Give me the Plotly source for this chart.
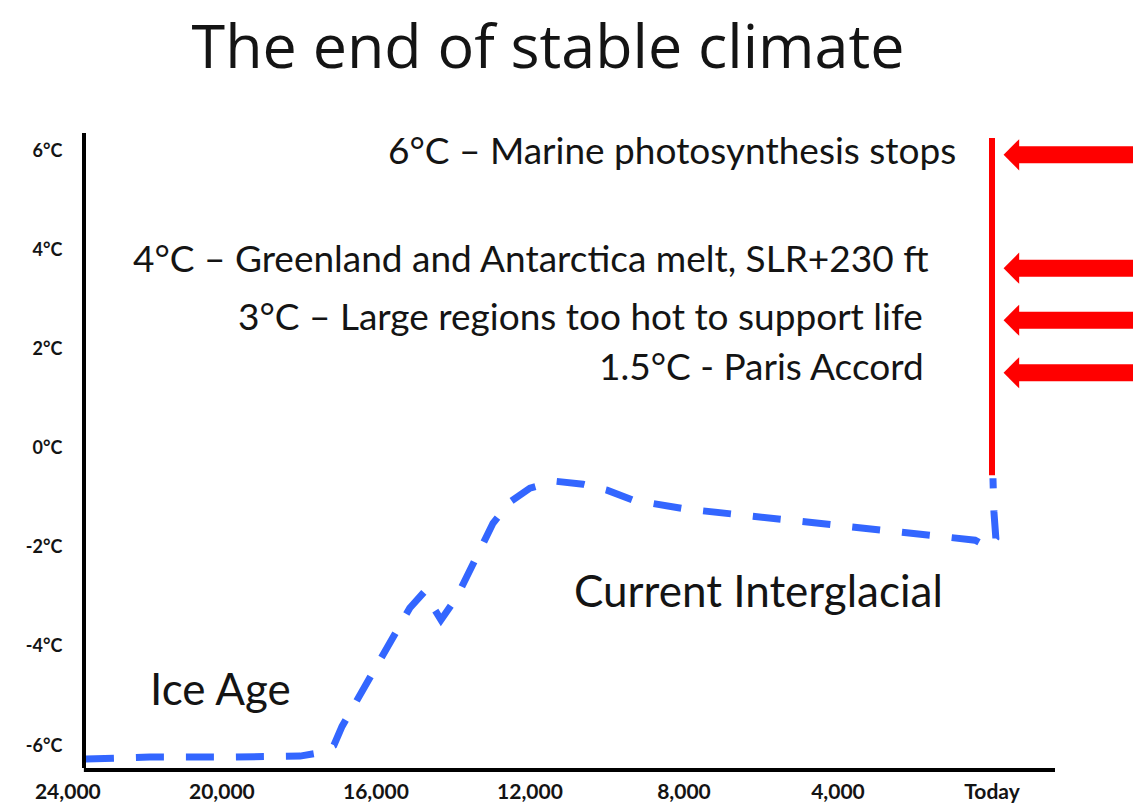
import plotly.graph_objects as go

# ---- data ----
years_bp = [23530, 21870, 20050, 18490, 17970, 17510, 17090, 16880, 15120, 14750,
            14310, 13900, 12960, 12520, 12000, 11350, 10620, 10000, 9330, 7970,
            6600, 5200, 3820, 2470, 1090, 440, 100, -100, -50, -25]
temp_c = [-6.28, -6.24, -6.24, -6.24, -6.22, -6.16, -6.00, -5.62, -3.23, -2.91,
          -3.47, -3.01, -1.52, -1.09, -0.81, -0.67, -0.73, -0.85, -1.05, -1.23,
          -1.35, -1.47, -1.56, -1.68, -1.80, -1.86, -2.00, -1.82, -1.29, -0.61]

today_line_x = [0, 0]
today_line_y = [-0.55, 6.26]

x_tick_vals = [24000, 20000, 16000, 12000, 8000, 4000, 0]
x_tick_text = ["24,000", "20,000", "16,000", "12,000", "8,000", "4,000", "Today"]
y_tick_vals = [-6, -4, -2, 0, 2, 4, 6]
y_tick_text = ["-6°C", "-4°C", "-2°C", "0°C", "2°C", "4°C", "6°C"]

threshold_text = ["6°C – Marine photosynthesis stops",
                  "4°C – Greenland and Antarctica melt, SLR+230 ft",
                  "3°C – Large regions too hot to support life",
                  "1.5°C - Paris Accord"]
threshold_text_x = [883, 1610, 1740, 1714]
threshold_text_y = [6.02, 3.84, 2.67, 1.66]
arrow_levels = [5.92, 3.63, 2.58, 1.52]

period_labels = ["Current Interglacial", "Ice Age"]
period_x = [10909, 21922]
period_y = [-2.87, -4.85]

FONT = "Lato"
TXT = "#141414"
X_RANGE = [24100, -1636]
AXIS_START = 23584

fig = go.Figure()
fig.add_trace(go.Scatter(x=today_line_x, y=today_line_y, mode="lines",
                         line=dict(color="#ff0000", width=6), hoverinfo="skip"))
fig.add_trace(go.Scatter(x=years_bp, y=temp_c, mode="lines",
                         line=dict(color="#3366ff", width=7, dash="28px,22px"),
                         hoverinfo="skip"))

annotations = []
for t, x, y in zip(threshold_text, threshold_text_x, threshold_text_y):
    annotations.append(dict(x=x, y=y, xref="x", yref="y", text=t, showarrow=False,
                            xanchor="right", yanchor="middle",
                            font=dict(family=FONT, size=37, color=TXT)))
tip_x = -300
for lv in arrow_levels:
    # shaft
    annotations.append(dict(x=tip_x - 300, y=lv, xref="x", yref="y", text="",
                            showarrow=True, axref="x", ayref="y", ax=-5000, ay=lv,
                            arrowhead=0, arrowwidth=17, arrowcolor="#ff0000"))
    # head
    annotations.append(dict(x=tip_x, y=lv, xref="x", yref="y", text="",
                            showarrow=True, axref="x", ayref="y", ax=tip_x - 1200, ay=lv,
                            arrowhead=1, arrowsize=1.04, arrowwidth=5,
                            arrowcolor="#ff0000"))
for t, x, y in zip(period_labels, period_x, period_y):
    annotations.append(dict(x=x, y=y, xref="x", yref="y", text=t, showarrow=False,
                            xanchor="left", yanchor="middle",
                            font=dict(family=FONT, size=44, color=TXT)))

shapes = [dict(type="line", xref="x", yref="paper", x0=AXIS_START, x1=X_RANGE[1],
               y0=-0.003, y1=-0.003, line=dict(color="black", width=4), layer="above")]

fig.update_layout(
    width=1133, height=807,
    margin=dict(l=64, r=78, t=133, b=39),
    paper_bgcolor="white", plot_bgcolor="white",
    showlegend=False,
    title=dict(text="The end of stable climate", x=548 / 1133, xanchor="center",
               y=1 - 47 / 807, yanchor="middle", automargin=False,
               font=dict(family="Open Sans", size=61, color=TXT)),
    xaxis=dict(range=X_RANGE, showgrid=False, zeroline=False, showline=False,
               automargin=False,
               tickvals=x_tick_vals, ticktext=x_tick_text, ticks="",
               ticklabelstandoff=9,
               tickfont=dict(family=FONT, size=21, color=TXT, weight="bold")),
    yaxis=dict(range=[-6.46, 6.36], showgrid=False, zeroline=False,
               automargin=False,
               anchor="free", position=20 / 991,
               showline=True, linecolor="black", linewidth=4,
               tickvals=y_tick_vals, ticktext=y_tick_text, ticks="",
               ticklabelstandoff=16,
               tickfont=dict(family=FONT, size=18, color=TXT, weight="bold")),
    annotations=annotations,
    shapes=shapes,
)

fig.write_html("out.html", config={"displayModeBar": False},
               post_script="document.body.style.margin='0';")
